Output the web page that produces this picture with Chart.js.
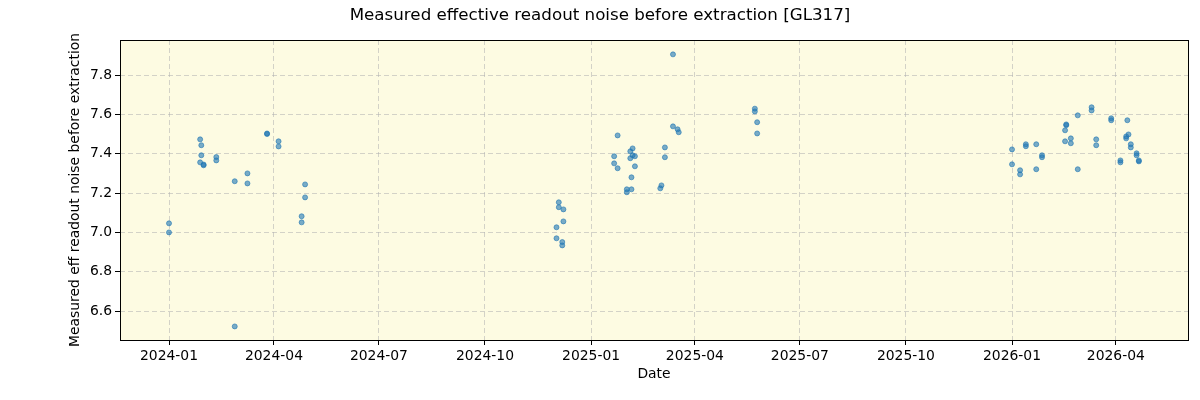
<!DOCTYPE html>
<html>
<head>
<meta charset="utf-8">
<script src="https://cdn.jsdelivr.net/npm/chart.js@4/dist/chart.umd.min.js"></script>
<style>
html,body{margin:0;padding:0;background:#fff;}
#wrap{width:1200px;height:400px;}
</style>
</head>
<body>
<div id="wrap"><canvas id="c" width="1200" height="400"></canvas></div>
<script>
const dates = [
  "2024-01-01","2024-01-01",
  "2024-01-28","2024-01-29","2024-01-29","2024-01-28","2024-01-31","2024-01-31",
  "2024-02-11","2024-02-11","2024-02-27","2024-03-09","2024-03-09","2024-02-27",
  "2024-03-26","2024-03-26","2024-04-05","2024-04-05",
  "2024-04-28","2024-04-28","2024-04-25","2024-04-25",
  "2024-12-04","2024-12-04","2024-12-08","2024-12-08","2024-12-02","2024-12-02","2024-12-07","2024-12-07",
  "2025-01-24","2025-01-21","2025-01-21","2025-01-24",
  "2025-02-06","2025-02-04","2025-02-06","2025-02-08","2025-02-04","2025-02-08","2025-02-05",
  "2025-02-01","2025-02-05","2025-02-01",
  "2025-03-13","2025-03-13","2025-03-17","2025-03-18","2025-03-06","2025-03-06","2025-03-03","2025-03-02",
  "2025-05-23","2025-05-23","2025-05-25","2025-05-25",
  "2026-01-01","2026-01-01","2026-01-08","2026-01-08","2026-01-13","2026-01-13","2026-01-22","2026-01-22",
  "2026-01-27","2026-01-27",
  "2026-02-17","2026-02-17","2026-02-16","2026-02-16","2026-02-21","2026-02-21","2026-02-27","2026-02-27",
  "2026-03-11","2026-03-11","2026-03-15","2026-03-15","2026-03-28","2026-03-28",
  "2026-04-11","2026-04-05","2026-04-05","2026-04-12","2026-04-10","2026-04-10","2026-04-14","2026-04-14",
  "2026-04-19","2026-04-19","2026-04-21","2026-04-21"
];
const noise = [
  7.046,7.000,
  7.473,7.443,7.392,7.356,7.341,7.345,
  7.383,7.366,7.260,7.300,7.249,6.522,
  7.503,7.500,7.463,7.437,
  7.244,7.178,7.082,7.051,
  7.153,7.128,7.117,7.056,7.026,6.970,6.951,6.934,
  7.493,7.387,7.351,7.326,
  7.427,7.412,7.392,7.387,7.377,7.336,7.280,
  7.219,7.219,7.204,
  7.905,7.539,7.524,7.509,7.432,7.382,7.239,7.224,
  7.629,7.615,7.560,7.503,
  7.422,7.346,7.316,7.295,7.448,7.438,7.448,7.321,
  7.392,7.382,
  7.549,7.545,7.519,7.463,7.478,7.453,7.595,7.321,
  7.636,7.620,7.473,7.443,7.580,7.570,
  7.570,7.366,7.356,7.498,7.488,7.478,7.448,7.432,
  7.402,7.392,7.366,7.361
];
const tickLabels = ["2024-01","2024-04","2024-07","2024-10","2025-01","2025-04","2025-07","2025-10","2026-01","2026-04"];
const yTicks = [6.6,6.8,7.0,7.2,7.4,7.6,7.8];
const titleText = 'Measured effective readout noise before extraction [GL317]';

function toMs(s){ const p = s.split("-").map(Number); return Date.UTC(p[0], p[1]-1, p[2] || 1); }
const points = dates.map((d,i)=>({x: toMs(d), y: noise[i]}));
const xTickVals = tickLabels.map(toMs);
const DAY = 86400000;
const xMin = toMs("2024-01-01") - 42.5*DAY;
const xMax = toMs("2024-01-01") + 883.6*DAY;

const FONT = "'DejaVu Sans', sans-serif";

const bgPlugin = {
  id: 'bg',
  beforeDraw(chart){
    const {ctx, chartArea:a} = chart;
    ctx.save();
    ctx.fillStyle = '#fdfbe2';
    ctx.fillRect(a.left, a.top, a.right-a.left, a.bottom-a.top);
    ctx.restore();
  },
  afterDraw(chart){
    const {ctx, chartArea:a} = chart;
    ctx.save();
    ctx.strokeStyle = '#000';
    ctx.lineWidth = 1;
    ctx.strokeRect(Math.round(a.left)+0.5, Math.round(a.top)+0.5, Math.round(a.right-a.left), Math.round(a.bottom-a.top));
    ctx.fillStyle = '#000';
    ctx.font = "16.7px " + FONT;
    ctx.textAlign = 'center';
    ctx.textBaseline = 'middle';
    ctx.fillText(titleText, 600, 16);
    ctx.restore();
  }
};

Chart.defaults.font.family = FONT;
Chart.defaults.color = '#000';

new Chart(document.getElementById('c'), {
  type: 'scatter',
  data: {
    datasets: [{
      data: points,
      backgroundColor: 'rgba(31,119,180,0.6)',
      borderColor: 'rgba(31,119,180,0.6)',
      borderWidth: 1,
      pointRadius: 2.5,
      pointHoverRadius: 2.5
    }]
  },
  options: {
    responsive: false,
    animation: false,
    events: [],
    layout: { padding: { left: 0, right: 12, top: 40, bottom: 0 } },
    plugins: {
      legend: { display: false },
      tooltip: { enabled: false },
      title: { display: false }
    },
    scales: {
      x: {
        type: 'linear',
        min: xMin, max: xMax,
        afterBuildTicks(scale){ scale.ticks = xTickVals.map(v=>({value:v})); },
        afterFit(scale){ scale.height = 60; },
        ticks: {
          callback(v){ const i = xTickVals.indexOf(v); return i>=0 ? tickLabels[i] : ''; },
          font: { size: 13.9 }, color: '#000', padding: 3, maxRotation: 0, autoSkip: false
        },
        grid: { color: 'rgba(176,176,176,0.55)', lineWidth: 1, tickColor: '#000', tickLength: 5, tickBorderDash: [] },
        border: { display: false, dash: [5,3] },
        title: { display: true, text: 'Date', font: { size: 13.9 }, color: '#000', padding: { top: 0, bottom: 17 } }
      },
      y: {
        type: 'linear',
        min: 6.453, max: 7.978,
        afterBuildTicks(scale){ scale.ticks = yTicks.map(v=>({value:v})); },
        afterFit(scale){ scale.width = 120; },
        ticks: {
          callback(v){ return v.toFixed(1); },
          font: { size: 13.9 }, color: '#000', padding: 3, autoSkip: false
        },
        grid: { color: 'rgba(176,176,176,0.55)', lineWidth: 1, tickColor: '#000', tickLength: 5, tickBorderDash: [] },
        border: { display: false, dash: [5,3] },
        title: { display: true, text: 'Measured eff readout noise before extraction', font: { size: 13.9 }, color: '#000', padding: { top: 67, bottom: 0 } }
      }
    }
  },
  plugins: [bgPlugin]
});
</script>
</body>
</html>
